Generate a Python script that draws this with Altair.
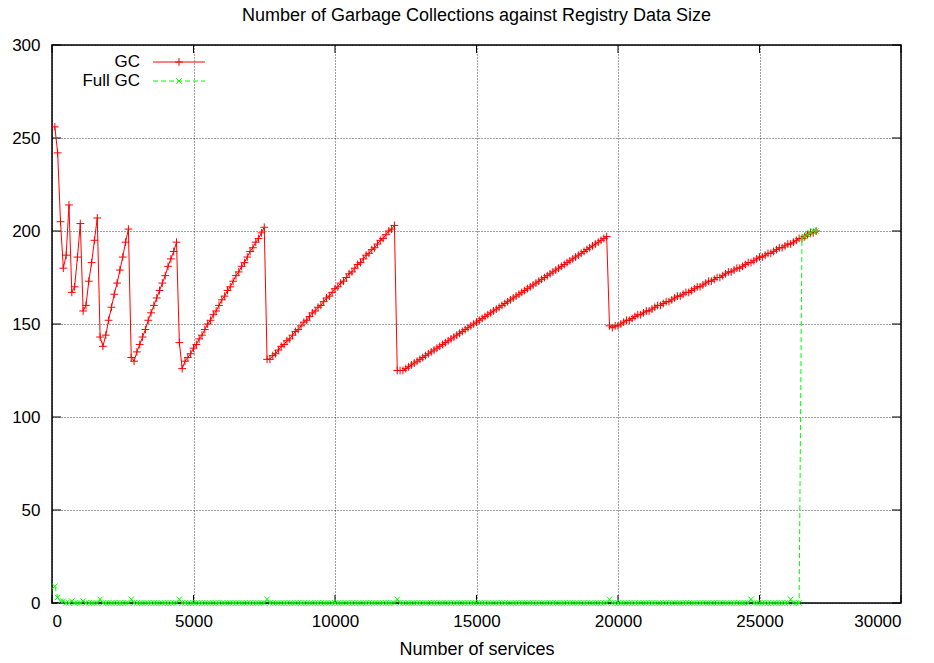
import altair as alt
import pandas as pd

# Number of services registered at each measurement step
services = list(range(100, 27100, 100))

# Minor (young generation) collections counted at each step
gc_counts = [
    # 100 - 3000
    256, 242, 205, 180, 187, 214, 167, 170, 186, 204,
    157, 160, 173, 183, 195, 207, 143, 138, 144, 152,
    159, 166, 172, 179, 186, 194, 201, 132, 130, 135,
    # 3100 - 4700
    139, 143, 147, 152, 156, 160, 164, 168, 172, 176,
    181, 185, 189, 194, 140, 126, 130,
    # 4800 - 7500
    132, 134, 137, 139, 142, 144, 147, 150, 152, 155,
    157, 160, 163, 165, 168, 170, 173, 176, 178, 181,
    183, 186, 189, 191, 194, 196, 199, 202,
    # 7600 - 7700
    131, 131,
    # 7800 - 12100
    133, 134, 136, 138, 139, 141, 142, 144, 146, 147,
    149, 151, 152, 154, 156, 157, 159, 160, 162, 164,
    165, 167, 169, 170, 172, 173, 175, 177, 178, 180,
    182, 183, 185, 187, 188, 190, 191, 193, 195, 196,
    198, 200, 201, 203,
    # 12200 - 12300
    125, 125,
    # 12400 - 19600
    125, 126, 127, 128, 129, 130, 131, 132, 133, 134,
    135, 136, 137, 138, 139, 140, 141, 142, 143, 144,
    145, 146, 147, 148, 149, 150, 151, 152, 153, 154,
    155, 156, 157, 158, 159, 160, 161, 162, 163, 164,
    165, 166, 167, 168, 169, 170, 171, 172, 173, 174,
    175, 176, 177, 178, 179, 180, 181, 182, 183, 184,
    185, 186, 187, 188, 189, 190, 191, 192, 193, 194,
    195, 196, 197,
    # 19700 - 19800
    149, 148,
    # 19900 - 27000
    149, 149, 150, 151, 152, 152, 153, 154, 155, 155,
    156, 157, 157, 158, 159, 160, 160, 161, 162, 162,
    163, 164, 165, 165, 166, 167, 167, 168, 169, 170,
    170, 171, 172, 173, 173, 174, 175, 175, 176, 177,
    178, 178, 179, 180, 180, 181, 182, 183, 183, 184,
    185, 186, 186, 187, 188, 188, 189, 190, 191, 191,
    192, 193, 193, 194, 195, 196, 196, 197, 198, 199,
    199, 200,
]

# Full (old generation) collections counted at each step, ten steps per row
full_gc_counts = [
    9, 3, 1, 1, 0, 0, 1, 0, 0, 0,          # 100 - 1000
    1, 0, 0, 0, 0, 0, 2, 0, 0, 0,          # 1100 - 2000
    0, 0, 0, 0, 0, 0, 0, 2, 0, 0,          # 2100 - 3000
    0, 0, 0, 0, 0, 0, 0, 0, 0, 0,          # 3100 - 4000
    0, 0, 0, 0, 2, 0, 0, 0, 0, 0,          # 4100 - 5000
    0, 0, 0, 0, 0, 0, 0, 0, 0, 0,          # 5100 - 6000
    0, 0, 0, 0, 0, 0, 0, 0, 0, 0,          # 6100 - 7000
    0, 0, 0, 0, 0, 2, 0, 0, 0, 0,          # 7100 - 8000
    0, 0, 0, 0, 0, 0, 0, 0, 0, 0,          # 8100 - 9000
    0, 0, 0, 0, 0, 0, 0, 0, 0, 0,          # 9100 - 10000
    0, 0, 0, 0, 0, 0, 0, 0, 0, 0,          # 10100 - 11000
    0, 0, 0, 0, 0, 0, 0, 0, 0, 0,          # 11100 - 12000
    0, 2, 0, 0, 0, 0, 0, 0, 0, 0,          # 12100 - 13000
    0, 0, 0, 0, 0, 0, 0, 0, 0, 0,          # 13100 - 14000
    0, 0, 0, 0, 0, 0, 0, 0, 0, 0,          # 14100 - 15000
    0, 0, 0, 0, 0, 0, 0, 0, 0, 0,          # 15100 - 16000
    0, 0, 0, 0, 0, 0, 0, 0, 0, 0,          # 16100 - 17000
    0, 0, 0, 0, 0, 0, 0, 0, 0, 0,          # 17100 - 18000
    0, 0, 0, 0, 0, 0, 0, 0, 0, 0,          # 18100 - 19000
    0, 0, 0, 0, 0, 0, 2, 0, 0, 0,          # 19100 - 20000
    0, 0, 0, 0, 0, 0, 0, 0, 0, 0,          # 20100 - 21000
    0, 0, 0, 0, 0, 0, 0, 0, 0, 0,          # 21100 - 22000
    0, 0, 0, 0, 0, 0, 0, 0, 0, 0,          # 22100 - 23000
    0, 0, 0, 0, 0, 0, 0, 0, 0, 0,          # 23100 - 24000
    0, 0, 0, 0, 0, 0, 2, 0, 0, 0,          # 24100 - 25000
    0, 0, 0, 0, 0, 0, 0, 0, 0, 0,          # 25100 - 26000
    2, 0, 0, 0, 196, 197, 198, 199, 200, 200,  # 26100 - 27000
]

x_ticks = [0, 5000, 10000, 15000, 20000, 25000, 30000]
y_ticks = [0, 50, 100, 150, 200, 250, 300]

TITLE = "Number of Garbage Collections against Registry Data Size"
X_TITLE = "Number of services"

PLOT_W, PLOT_H = 849, 558
FONT = "Liberation Sans"
FS = 17
TITLE_FS = 18

RED = "#ff0000"
GREEN = "#00ff00"
PLUS = "M-1,0L1,0M0,-1L0,1"
CROSS = "M-1,-1L1,1M-1,1L1,-1"

df = pd.DataFrame({"services": services, "gc": gc_counts, "full_gc": full_gc_counts})
xt = pd.DataFrame({"tick": x_ticks})
yt = pd.DataFrame({"tick": y_ticks})

x_scale = alt.Scale(domain=[0, 30000], nice=False, zero=False)
y_scale = alt.Scale(domain=[0, 300], nice=False, zero=False)

x_axis = alt.Axis(values=x_ticks, format="d", title=X_TITLE, grid=True, ticks=False,
                  domain=False, labelPadding=10, titleBaseline="middle", titleY=46)
y_axis = alt.Axis(values=y_ticks, format="d", title=None, grid=True, ticks=False,
                  domain=False, labelPadding=12)


def X(field):
    return alt.X(field, type="quantitative", scale=x_scale, axis=x_axis)


def Y(field):
    return alt.Y(field, type="quantitative", scale=y_scale, axis=y_axis)


base = alt.Chart(df)

gc_line = base.mark_line(color=RED, strokeWidth=1).encode(x=X("services"), y=Y("gc"))
gc_pts = base.mark_point(shape=PLUS, size=60, color=RED, filled=False, strokeWidth=1,
                         opacity=1).encode(x=X("services"), y=Y("gc"))
full_line = base.mark_line(color=GREEN, strokeWidth=1, strokeDash=[5, 3]).encode(
    x=X("services"), y=Y("full_gc"))
full_pts = base.mark_point(shape=CROSS, size=30, color=GREEN, filled=False, strokeWidth=1,
                           opacity=1).encode(x=X("services"), y=Y("full_gc"))

# inward tick marks on all four sides of the frame
tick_style = dict(color="black", strokeWidth=1)
x_ticks_bottom = alt.Chart(xt).mark_rule(**tick_style).encode(
    x=X("tick"), y=alt.value(PLOT_H), y2=alt.value(PLOT_H - 8))
x_ticks_top = alt.Chart(xt).mark_rule(**tick_style).encode(
    x=X("tick"), y=alt.value(0), y2=alt.value(8))
y_ticks_left = alt.Chart(yt).mark_rule(**tick_style).encode(
    y=Y("tick"), x=alt.value(0), x2=alt.value(9))
y_ticks_right = alt.Chart(yt).mark_rule(**tick_style).encode(
    y=Y("tick"), x=alt.value(PLOT_W), x2=alt.value(PLOT_W - 9))

# key in the upper-left corner: label, then a line sample with its marker
key_rows = [("GC", RED, [1, 0], PLUS, 60, 17), ("Full GC", GREEN, [5, 3], CROSS, 30, 36)]
key_layers = []
for label, color, dash, shape, size, ypos in key_rows:
    one = alt.Chart(pd.DataFrame({"label": [label]}))
    key_layers.append(one.mark_text(align="right", baseline="middle", font=FONT,
                                    fontSize=FS, color="black").encode(
        text="label:N", x=alt.value(88), y=alt.value(ypos)))
    key_layers.append(one.mark_rule(color=color, strokeWidth=1, strokeDash=dash).encode(
        x=alt.value(101), x2=alt.value(153), y=alt.value(ypos)))
    key_layers.append(one.mark_point(shape=shape, size=size, color=color, filled=False,
                                     strokeWidth=1, opacity=1).encode(
        x=alt.value(127), y=alt.value(ypos)))

chart = alt.layer(
    x_ticks_bottom, x_ticks_top, y_ticks_left, y_ticks_right,
    gc_line, gc_pts, full_line, full_pts, *key_layers,
).properties(
    width=PLOT_W,
    height=PLOT_H,
    title=alt.TitleParams(TITLE, font=FONT, fontSize=TITLE_FS, fontWeight="normal",
                          anchor="middle", color="black", baseline="bottom",
                          offset=20, dy=27),
    padding={"left": 52, "top": 45, "right": 33, "bottom": 60},
    autosize=alt.AutoSizeParams(type="none"),
).configure(
    background="white",
).configure_view(
    stroke="black", strokeWidth=1.5,
).configure_axis(
    labelFont=FONT, labelFontSize=FS, labelColor="black",
    titleFont=FONT, titleFontSize=TITLE_FS, titleFontWeight="normal", titleColor="black",
    gridColor="#000000", gridOpacity=0.75, gridDash=[1, 2], gridWidth=1,
)

chart.save("out.html", embed_options={"renderer": "svg", "actions": False})
